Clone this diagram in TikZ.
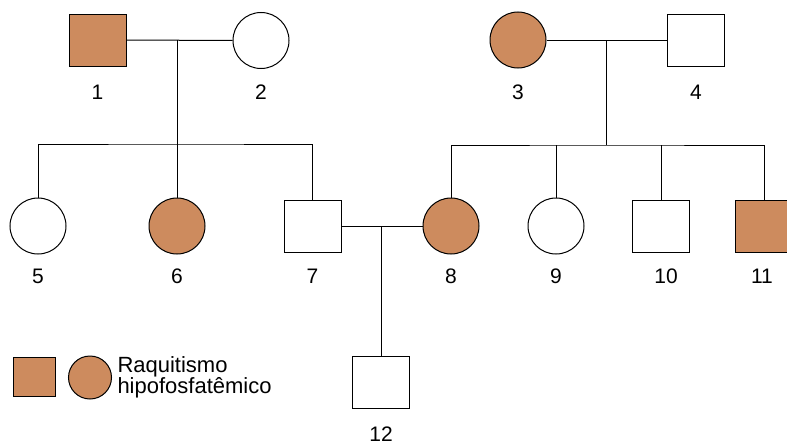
\documentclass[tikz,border=0pt]{standalone}
\usepackage{fontspec}
\setmainfont{Liberation Sans}
\definecolor{affc}{RGB}{205,139,94}
\begin{document}
\begin{tikzpicture}[x=1pt,y=-1pt,line width=1pt,
  male/.style={draw,rectangle,minimum width=57pt,minimum height=52pt,inner sep=0pt},
  female/.style={draw,circle,minimum size=56pt,inner sep=0pt},
  aff/.style={fill=affc},
  lab/.style={font=\fontsize{21}{24}\selectfont,inner sep=0pt}]
\useasboundingbox (0,0) rectangle (787,447);
% individuals
\node[male,aff] (n1) at (97.5,40) {};
\node[female] (n2) at (261,40.5) {};
\node[female,aff] (n3) at (518,40) {};
\node[male] (n4) at (696,40) {};
\node[female] (n5) at (38,226) {};
\node[female,aff] (n6) at (177,226) {};
\node[male] (n7) at (312.5,226) {};
\node[female,aff] (n8) at (451,226) {};
\node[female] (n9) at (556,226) {};
\node[male] (n10) at (661,226) {};
\node[male,aff] (n11) at (764,226) {};
\node[male] (n12) at (381,382) {};
% coordinates
\coordinate (m12) at (177,40);
\coordinate (s1) at (177,144);
\coordinate (m34) at (606,40);
\coordinate (s2) at (606,145);
\coordinate (m78) at (381,226);
% connectors
\draw (n1) -- (n2);
\draw (m12) -- (n6.north);
\draw (n5.north) |- (s1) -| (n7.north);
\draw (n3) -- (n4);
\draw (m34) -- (s2);
\draw (n8.north) |- (s2) -| (n11.north);
\draw (n9.north) -- (n9.north |- s2);
\draw (n10.north) -- (n10.north |- s2);
\draw (n7) -- (n8);
\draw (m78) -- (n12.north);
% labels
\node[lab] (l1) at (97.5,92) {1};
\node[lab] (l2) at (261,92) {2};
\node[lab] (l3) at (518,92) {3};
\node[lab] (l4) at (696,92) {4};
\node[lab] (l5) at (38,276) {5};
\node[lab] (l6) at (177,276) {6};
\node[lab] (l7) at (312.5,276) {7};
\node[lab] (l8) at (451,276) {8};
\node[lab] (l9) at (556,276) {9};
\node[lab] (l10) at (666,276) {10};
\node[lab] (l11) at (762,276) {11};
\node[lab] (l12) at (381,434) {12};
% legend
\node[draw,aff,rectangle,minimum width=42pt,minimum height=39pt,inner sep=0pt] (lg1) at (34,376.5) {};
\node[draw,aff,circle,minimum size=43pt,inner sep=0pt] (lg2) at (90,377.5) {};
\node[anchor=west,align=left,inner sep=0pt,font=\fontsize{22}{21}\selectfont] (lgt) at (117,377) {Raquitismo\\hipofosfatêmico};
\end{tikzpicture}
\end{document}
